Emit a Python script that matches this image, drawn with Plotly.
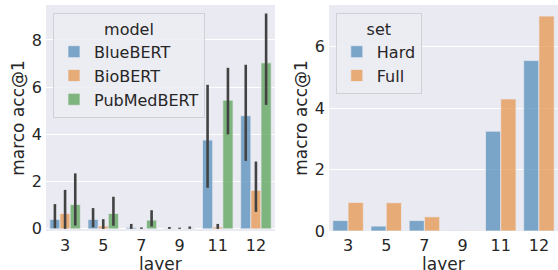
import plotly.graph_objects as go

layers = ["3", "5", "7", "9", "11", "12"]

# Left panel: per-model mean macro acc@1 with CI bounds
bluebert = [0.40, 0.40, 0.06, 0.01, 3.76, 4.79]
bluebert_hi = [1.05, 0.88, 0.21, 0.08, 6.10, 6.95]
bluebert_lo = [0.03, 0.06, 0.0, 0.0, 1.74, 2.88]

biobert = [0.65, 0.12, 0.01, 0.0, 0.08, 1.63]
biobert_hi = [1.65, 0.41, 0.06, 0.05, 0.21, 2.85]
biobert_lo = [0.0, 0.0, 0.0, 0.0, 0.0, 0.72]

pubmedbert = [1.03, 0.65, 0.37, 0.01, 5.45, 7.03]
pubmedbert_hi = [2.35, 1.36, 0.79, 0.10, 6.82, 9.12]
pubmedbert_lo = [0.14, 0.13, 0.10, 0.0, 4.00, 5.25]

# Right panel: per-set macro acc@1
hard = [0.34, 0.16, 0.34, 0.01, 3.25, 5.55]
full = [0.93, 0.92, 0.46, 0.01, 4.30, 7.00]

C_BLUE = "rgba(85,141,185,0.75)"
C_ORANGE = "rgba(229,149,79,0.75)"
C_GREEN = "rgba(89,162,86,0.75)"
EDGE = "rgba(234,234,242,0.9)"
ERR = "#424242"
TXT = "#262626"
FONT = "DejaVu Sans"

fig = go.Figure()


def add_model(name, vals, hi, lo, color):
    fig.add_trace(go.Bar(
        x=layers, y=vals, name=name, legend="legend",
        marker=dict(color=color, line=dict(color=EDGE, width=0.8)),
        error_y=dict(type="data", symmetric=False,
                     array=[h - v for h, v in zip(hi, vals)],
                     arrayminus=[v - l for v, l in zip(vals, lo)],
                     color=ERR, thickness=2.6, width=0),
        xaxis="x", yaxis="y",
    ))


add_model("BlueBERT", bluebert, bluebert_hi, bluebert_lo, C_BLUE)
add_model("BioBERT", biobert, biobert_hi, biobert_lo, C_ORANGE)
add_model("PubMedBERT", pubmedbert, pubmedbert_hi, pubmedbert_lo, C_GREEN)

fig.add_trace(go.Bar(x=layers, y=hard, name="Hard", legend="legend2",
                     marker=dict(color=C_BLUE, line=dict(color=EDGE, width=0.8)),
                     xaxis="x2", yaxis="y2"))
fig.add_trace(go.Bar(x=layers, y=full, name="Full", legend="legend2",
                     marker=dict(color=C_ORANGE, line=dict(color=EDGE, width=0.8)),
                     xaxis="x2", yaxis="y2"))

axis_common = dict(
    showgrid=True, gridcolor="white", gridwidth=1.2, zeroline=False,
    showline=False, ticks="", ticklen=0,
    tickfont=dict(family=FONT, size=16, color=TXT),
    automargin=False,
)
title_font = dict(family=FONT, size=17, color=TXT)

xcommon = dict(axis_common, type="category", showgrid=False, range=[-0.5, 5.5],
               ticklabelstandoff=3)

X1_DOMAIN = [0, 0.4473]
X2_DOMAIN = [0.5527, 1]

fig.update_layout(
    width=558, height=270,
    margin=dict(l=46, r=0, t=5, b=39),
    paper_bgcolor="white",
    plot_bgcolor="#EAEAF2",
    barmode="group", bargap=0.2, bargroupgap=0,
    font=dict(family=FONT, color=TXT),
    xaxis=dict(xcommon, domain=X1_DOMAIN, anchor="y"),
    yaxis=dict(axis_common, domain=[0, 1], anchor="x", range=[-0.09, 9.48],
               tickvals=[0, 2, 4, 6, 8], ticklabelstandoff=3,
               title=dict(text="marco acc@1", font=title_font, standoff=2)),
    xaxis2=dict(xcommon, domain=X2_DOMAIN, anchor="y2"),
    yaxis2=dict(axis_common, domain=[0, 1], anchor="x2", range=[0, 7.36],
                tickvals=[0, 2, 4, 6], ticklabelstandoff=3,
                title=dict(text="macro acc@1", font=title_font, standoff=2)),
    legend=dict(
        x=0.0137, y=0.9646, xanchor="left", yanchor="top",
        bgcolor="rgba(236,236,243,0.85)", bordercolor="#D0D0D8", borderwidth=1,
        font=dict(family=FONT, size=16, color=TXT),
        title=dict(text="model", side="top center", font=dict(family=FONT, size=16, color=TXT)),
        itemwidth=30, tracegroupgap=0,
    ),
    legend2=dict(
        x=0.566, y=0.9646, xanchor="left", yanchor="top",
        bgcolor="rgba(236,236,243,0.85)", bordercolor="#D0D0D8", borderwidth=1,
        font=dict(family=FONT, size=16, color=TXT),
        title=dict(text="set", side="top center", font=dict(family=FONT, size=16, color=TXT)),
        itemwidth=30, tracegroupgap=0,
    ),
    showlegend=True,
)

# x-axis titles ("layer") placed just below the tick labels
for dom in (X1_DOMAIN, X2_DOMAIN):
    fig.add_annotation(text="layer", xref="paper", yref="paper",
                       x=(dom[0] + dom[1]) / 2, y=-0.095,
                       xanchor="center", yanchor="top", showarrow=False,
                       font=title_font)

fig.write_html("out.html", config={"displayModeBar": False},
               post_script="document.body.style.margin='0';document.body.style.padding='0';")
